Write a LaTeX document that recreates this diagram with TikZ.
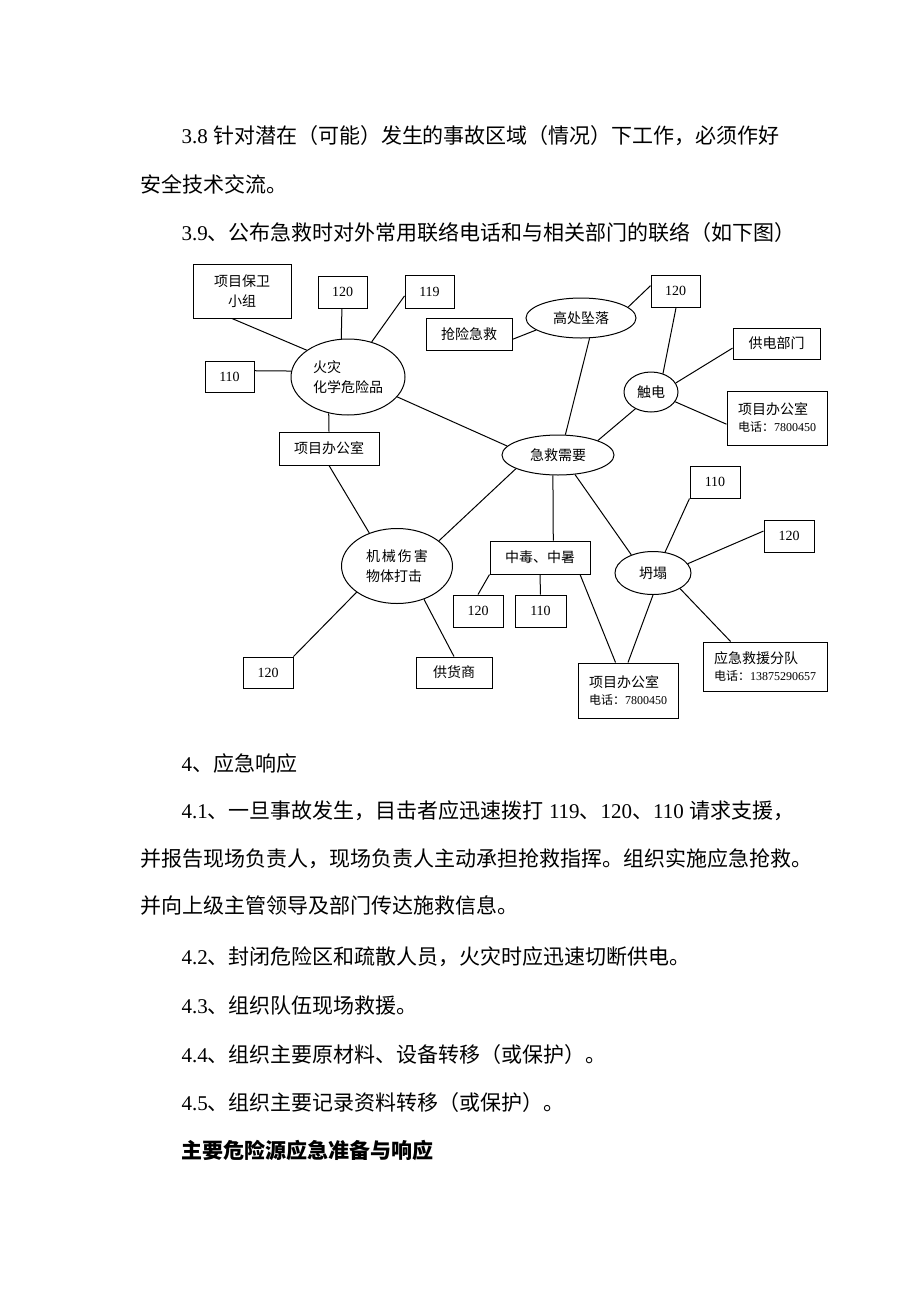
\documentclass[tikz,border=0pt]{standalone}
\usepackage{fontspec}
\setmainfont{Liberation Serif}
\newfontfamily\cjk{Noto Sans CJK SC}
\newcommand{\zh}[1]{{\cjk #1}}
\newcommand{\telsize}{\fontsize{12}{14}\selectfont}
\usetikzlibrary{shapes.geometric}

\begin{document}
\begin{tikzpicture}[x=1pt,y=-1pt,line width=1pt,
  box/.style={draw,rectangle,inner sep=0pt,align=center,font=\fontsize{14}{20}\selectfont},
  oval/.style={draw,ellipse,inner sep=0pt,align=left,font=\fontsize{14}{20}\selectfont},
  body/.style={anchor=base west,inner sep=0pt,font=\fontsize{21}{21}\selectfont}]
\fill[white](0,0)rectangle(920,1302);
\useasboundingbox(0,0)rectangle(920,1302);
% text above
\node[body](t1)at(181,143){3.8 \zh{针对潜在（可能）发生的事故区域（情况）下工作，必须作好}};
\node[body](t2)at(140,192){\zh{安全技术交流。}};
\node[body](t3)at(181,240){3.9\zh{、公布急救时对外常用联络电话和与相关部门的联络（如下图）}};
% diagram
\node[box,minimum width=98,minimum height=54](guard)at(242,291){\zh{项目保卫}\\\zh{小组}};
\node[box,minimum width=49,minimum height=32](f120)at(342.5,292){120};
\node[box,minimum width=49,minimum height=33](f119)at(429.5,291.5){119};
\node[box,minimum width=49,minimum height=31](f110)at(229.5,376.5){110};
\node[oval,minimum width=114,minimum height=76](fire)at(348,377){\zh{火灾}\\\zh{化学危险品}};
\node[box,minimum width=100,minimum height=33](fireoff)at(329,448.5){\zh{项目办公室}};
\node[box,minimum width=86,minimum height=32](rescue)at(469,334){\zh{抢险急救}};
\node[oval,minimum width=110,minimum height=40](fall)at(581,318){\zh{高处坠落}};
\node[box,minimum width=49,minimum height=32](fall120)at(675.5,291){120};
\node[box,minimum width=87,minimum height=31](power)at(776.5,343.5){\zh{供电部门}};
\node[oval,minimum width=54,minimum height=40](shock)at(651,392){\zh{触电}};
\node[box,minimum width=100,minimum height=54,align=left](shockoff)at(777,418){\zh{项目办公室}\\[-3pt]{\telsize\zh{电话：}7800450}};
\node[oval,minimum width=112,minimum height=40](need)at(558,455){\zh{急救需要}};
\node[oval,minimum width=111,minimum height=75](mech)at(397,566){\zh{机\kern2pt 械\kern2pt 伤\kern2pt 害}\\\zh{物体打击}};
\node[box,minimum width=100,minimum height=33](poison)at(540,557.5){\zh{中毒、中暑}};
\node[box,minimum width=50,minimum height=32](p120)at(478,611){120};
\node[box,minimum width=51,minimum height=32](p110)at(540.5,611){110};
\node[oval,minimum width=76,minimum height=43](clp)at(653,573){\zh{坍塌}};
\node[box,minimum width=50,minimum height=32](clp110)at(715,482){110};
\node[box,minimum width=50,minimum height=32](clp120)at(789,536){120};
\node[box,minimum width=100,minimum height=55,align=left](clpoff)at(628,690.5){\zh{项目办公室}\\[-3pt]{\telsize\zh{电话：}7800450}};
\node[box,minimum width=124,minimum height=49,align=left](team)at(765,666.5){\zh{应急救援分队}\\[-3pt]{\telsize\zh{电话：}13875290657}};
\node[box,minimum width=76,minimum height=31](supply)at(454,672.5){\zh{供货商}};
\node[box,minimum width=50,minimum height=31](mech120)at(268,672.5){120};
\draw(guard.-110)--(fire.147);
\draw(f120.-92)--(fire.100);
\draw(f119.-170)--(fire.56);
\draw(f110.13)--(fire.174);
\draw(fire.-118)--(fireoff.north);
\draw(fire.-22)--(need.170);
\draw(rescue.-7)--(fall.-165);
\draw(fall.13)--(fall120.168);
\draw(fall.-67)--(need.70);
\draw(fall120.-88)--(shock.57);
\draw(shock.20)--(power.-174);
\draw(shock.-22)--(shockoff.-173);
\draw(shock.-133)--(need.20);
\draw(need.-162)--(mech.31);
\draw(need.-104)--(poison.52);
\draw(need.-49)--(clp.140);
\draw(poison.south west)--(p120.north);
\draw(poison.south)--(p110.north);
\draw(poison.-23.5)--(clpoff.114);
\draw(clp.60)--(clp110.south west);
\draw(clp.15)--(clp120.169);
\draw(clp.south)--(clpoff.north);
\draw(clp.-30)--(team.144);
\draw(fireoff.south)--(mech.130);
\draw(mech.-147)--(mech120.north east);
\draw(mech.-51)--(supply.north);
% text below
\node[body](t4)at(181,771){4\zh{、应急响应}};
\node[body](t5)at(181,818){4.1\zh{、一旦事故发生，目击者应迅速拨打} 119\zh{、}120\zh{、}110 \zh{请求支援，}};
\node[body](t6)at(140,866){\zh{并报告现场负责人，现场负责人主动承担抢救指挥。组织实施应急抢救。}};
\node[body](t7)at(140,913){\zh{并向上级主管领导及部门传达施救信息。}};
\node[body](t8)at(181,964){4.2\zh{、封闭危险区和疏散人员，火灾时应迅速切断供电。}};
\node[body](t9)at(181,1013){4.3\zh{、组织队伍现场救援。}};
\node[body](t10)at(181,1062){4.4\zh{、组织主要原材料、设备转移（或保护）。}};
\node[body](t11)at(181,1110){4.5\zh{、组织主要记录资料转移（或保护）。}};
\node[body](t12)at(181,1158){\bfseries\zh{主要危险源应急准备与响应}};
\end{tikzpicture}
\end{document}
